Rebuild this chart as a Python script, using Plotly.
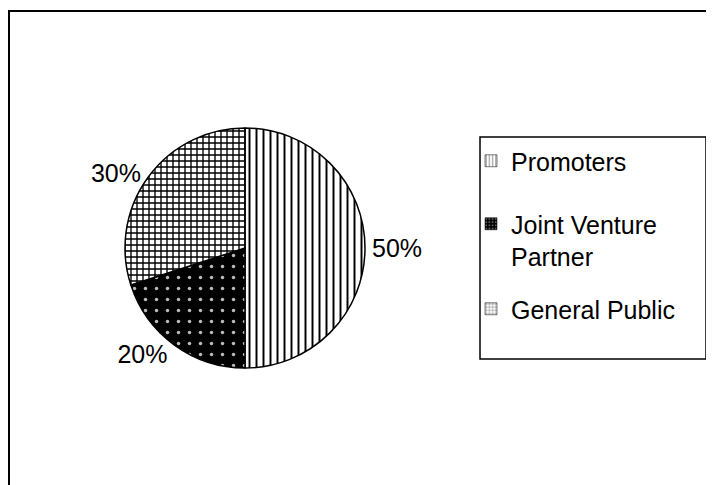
import plotly.graph_objects as go

labels = ["Promoters", "Joint Venture Partner", "General Public"]
legend_labels = ["Promoters", "Joint Venture<br>Partner", "General Public"]
values = [50, 20, 30]

W, H = 714, 485
# page is offset by the browser body margin (8px); positions below are paper pixels
cx, cy, r = 237, 240, 120
FONT = "Liberation Sans, Arial"
FS = 25

pat_shape = ["|", ".", "+"]
pat_fg = ["black", "#bbbbbb", "black"]
pat_bg = ["white", "black", "white"]
pat_size = [7, 11, 6]
pat_sol = [0.28, 0.08, 0.4]

fig = go.Figure()
fig.add_trace(go.Pie(
    labels=labels,
    values=values,
    sort=False,
    direction="clockwise",
    rotation=0,
    textposition="outside",
    texttemplate="%{percent:.0%}",
    textfont=dict(family=FONT, size=FS, color="black"),
    marker=dict(
        colors=pat_bg,
        line=dict(color="black", width=1.5),
        pattern=dict(shape=pat_shape, fgcolor=pat_fg, bgcolor=pat_bg,
                     size=pat_size, solidity=pat_sol),
    ),
    domain=dict(x=[(cx - r) / W, (cx + r) / W], y=[(H - cy - r) / H, (H - cy + r) / H]),
    hoverinfo="skip",
    showlegend=False,
))

# legend entries (one legend per entry so their spacing can follow the reference)
legend_tops = [130, 193, 278]
legend_names = ["legend", "legend2", "legend3"]
for i in range(3):
    fig.add_trace(go.Bar(
        x=[None], y=[None], name=legend_labels[i],
        marker=dict(color=pat_bg[i], line=dict(color="black", width=0.5),
                    pattern=dict(shape=pat_shape[i], fgcolor=pat_fg[i], bgcolor=pat_bg[i],
                                 size=4, solidity=0.3)),
        legend=legend_names[i], showlegend=True, hoverinfo="skip",
    ))

leg_common = dict(
    xanchor="left", yanchor="top",
    font=dict(family=FONT, size=FS, color="black"),
    valign="top", bgcolor="rgba(0,0,0,0)", borderwidth=0,
    itemclick=False, itemdoubleclick=False,
)
legends = {}
for i, nm in enumerate(legend_names):
    legends[nm] = dict(x=463 / W, y=1 - legend_tops[i] / H, **leg_common)

shapes = [
    dict(type="rect", xref="paper", yref="paper", x0=1 / W, x1=1.05, y0=-0.05, y1=1 - 3 / H,
         line=dict(color="black", width=2), fillcolor="rgba(0,0,0,0)", layer="above"),
    dict(type="rect", xref="paper", yref="paper", x0=472 / W, x1=698 / W, y0=1 - 351 / H, y1=1 - 129 / H,
         line=dict(color="black", width=1.5), fillcolor="rgba(0,0,0,0)"),
]

fig.update_layout(
    width=W, height=H,
    margin=dict(l=0, r=0, t=0, b=0),
    paper_bgcolor="white",
    plot_bgcolor="rgba(0,0,0,0)",
    xaxis=dict(visible=False),
    yaxis=dict(visible=False),
    shapes=shapes,
    **legends,
)

fig.write_html("out.html")
